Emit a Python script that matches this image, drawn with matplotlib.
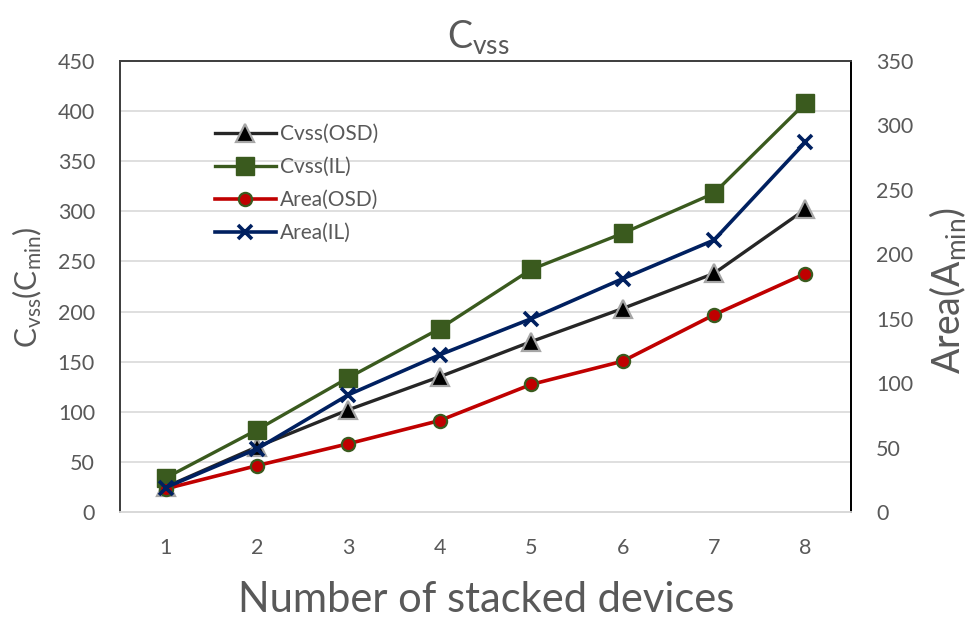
import matplotlib
matplotlib.use("Agg")
import matplotlib.pyplot as plt

plt.rcParams['font.family'] = ['Lato', 'DejaVu Sans']
plt.rcParams['mathtext.default'] = 'regular'

devices = [1, 2, 3, 4, 5, 6, 7, 8]
cvss_osd = [25, 65, 102, 135, 170, 203, 238, 302]
cvss_il = [34, 82, 134, 183, 242, 278, 318, 408]
area_osd = [18, 36, 53, 71, 99, 117, 153, 185]
area_il = [19, 49, 91, 122, 150, 181, 211, 287]
left_ticks = list(range(0, 451, 50))
right_ticks = list(range(0, 351, 50))

TXT = '#595959'

fig = plt.figure(figsize=(9.74, 6.2), dpi=100)
ax = fig.add_axes([120/974, 1 - 512/620, 731/974, 451/620])
ax2 = ax.twinx()

l1, = ax.plot(devices, cvss_osd, color='#262626', lw=2.4, marker='^', ms=12.5,
              mfc='black', mec='#a6a6a6', mew=1.6, label='Cvss(OSD)')
l2, = ax.plot(devices, cvss_il, color='#3a5a1e', lw=2.4, marker='s', ms=13.5,
              mfc='#3a5a1e', mec='#3a5a1e', label='Cvss(IL)')
l3, = ax2.plot(devices, area_osd, color='#c00000', lw=2.6, marker='o', ms=9.5,
               mfc='#c00000', mec='#3a5a1e', mew=1.6, label='Area(OSD)')
l4, = ax2.plot(devices, area_il, color='#002060', lw=2.6, marker='x', ms=10,
               mec='#002060', mew=2.6, label='Area(IL)')

ax.set_xlim(0.5, 8.5)
ax.set_ylim(0, 450)
ax2.set_ylim(0, 350)
ax.set_xticks(devices)
ax.set_yticks(left_ticks)
ax2.set_yticks(right_ticks)

ax.grid(axis='y', color='#d9d9d9', lw=1.2)
ax.set_axisbelow(True)

for a in (ax, ax2):
    a.tick_params(length=0, labelsize=15.5, labelcolor=TXT)
    a.spines['left'].set_color('#404040')
    a.spines['right'].set_color('#000000')
    a.spines['top'].set_color('#404040')
    a.spines['bottom'].set_color('#d9d9d9')
    for s in a.spines.values():
        s.set_linewidth(1.3)
ax.tick_params(axis='x', pad=19)
ax.tick_params(axis='y', pad=18)
ax2.tick_params(axis='y', pad=18)

fig.text(478/974, 1 - 37/620, 'C$_{vss}$', ha='center', va='center',
         fontsize=27, color=TXT)
fig.text(27/974, 1 - 287/620, 'C$_{vss}$(C$_{min}$)', ha='center', va='center',
         rotation=90, fontsize=21.5, color=TXT)
fig.text(948/974, 1 - 290/620, 'Area(A$_{min}$)', ha='center', va='center',
         rotation=90, fontsize=27, color=TXT)
fig.text(486/974, 1 - 600/620, 'Number of stacked devices', ha='center', va='center',
         fontsize=30, color=TXT)

leg = ax2.legend(handles=[l1, l2, l3, l4], loc='upper left',
                 bbox_to_anchor=(0.116, 0.883), frameon=False, fontsize=15,
                 handlelength=2.9, handletextpad=0.2, labelspacing=0.62,
                 labelcolor=TXT, borderpad=0)

fig.savefig('out.png', dpi=100)
